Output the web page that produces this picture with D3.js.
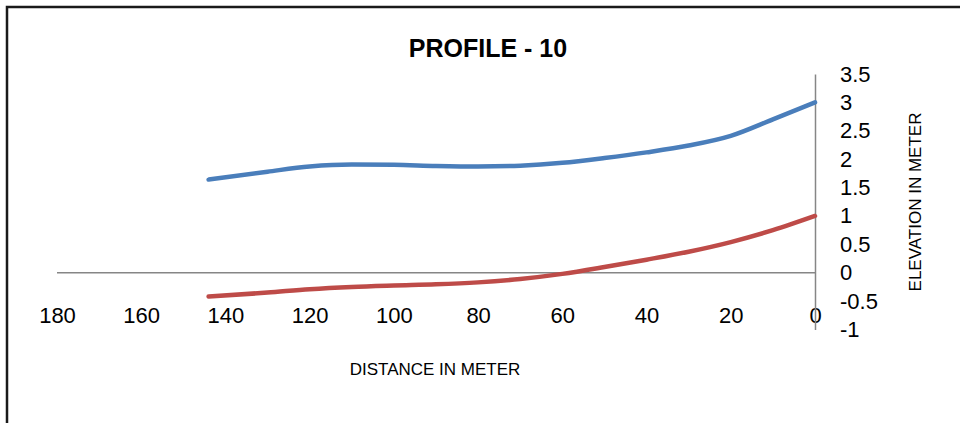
<!DOCTYPE html>
<html>
<head>
<meta charset="utf-8">
<script src="https://cdn.jsdelivr.net/npm/d3@7"></script>
<style>
  body { margin: 0; background: #fff; }
  text { font-family: "Liberation Sans", Arial, sans-serif; fill: #000; }
</style>
</head>
<body>
<div id="chart"></div>
<script>
// data
const distances = [144, 130, 120, 110, 100, 90, 80, 70, 60, 50, 40, 30, 20, 10, 0];
const upperProfile = [1.64, 1.78, 1.87, 1.905, 1.90, 1.88, 1.87, 1.885, 1.935, 2.02, 2.12, 2.24, 2.41, 2.70, 3.0];
const lowerProfile = [-0.42, -0.35, -0.29, -0.25, -0.225, -0.205, -0.17, -0.11, -0.02, 0.10, 0.23, 0.37, 0.54, 0.75, 1.0];
const xTicks = [180, 160, 140, 120, 100, 80, 60, 40, 20, 0];
const yTicks = [-1, -0.5, 0, 0.5, 1, 1.5, 2, 2.5, 3, 3.5];

const width = 960, height = 423;

const svg = d3.select("#chart")
  .append("svg")
    .attr("width", width)
    .attr("height", height);

// chart border (only top and left edge are in view)
svg.append("path")
  .attr("d", `M7,${height} L7,7 L${width},7`)
  .attr("fill", "none")
  .attr("stroke", "#1a1a1a")
  .attr("stroke-width", 2.5);

// scales
const x = d3.scaleLinear().domain([180, 0]).range([57, 815]);
const y = d3.scaleLinear().domain([-1, 3.5]).range([329.5, 74]);

// horizontal axis line at zero
svg.append("line")
  .attr("x1", x(180)).attr("x2", x(0))
  .attr("y1", y(0)).attr("y2", y(0))
  .attr("stroke", "#868686")
  .attr("stroke-width", 1.5);

// X tick labels
const xAxis = svg.append("g")
  .attr("transform", "translate(0,307)")
  .call(d3.axisBottom(x).tickValues(xTicks).tickSize(0).tickPadding(0).tickFormat(d => String(d)));
xAxis.select(".domain").remove();
xAxis.selectAll("text")
  .style("font-size", "22px")
  .style("font-family", "'Liberation Sans', Arial, sans-serif");

// right-hand Y axis
const yAxis = svg.append("g")
  .attr("transform", `translate(${x(0)},0)`)
  .call(d3.axisRight(y).tickValues(yTicks).tickSize(0).tickPadding(25).tickFormat(d => String(d)));
yAxis.select(".domain")
  .attr("stroke", "#868686")
  .attr("stroke-width", 1.5);
yAxis.selectAll("text")
  .attr("text-anchor", "start")
  .style("font-size", "22px")
  .style("font-family", "'Liberation Sans', Arial, sans-serif");

// lines
const line = d3.line()
  .x(d => x(d[0]))
  .y(d => y(d[1]))
  .curve(d3.curveMonotoneX);

svg.append("path")
  .datum(distances.map((d, i) => [d, upperProfile[i]]))
  .attr("d", line)
  .attr("fill", "none")
  .attr("stroke", "#4a7ebb")
  .attr("stroke-width", 4.5)
  .attr("stroke-linecap", "round");

svg.append("path")
  .datum(distances.map((d, i) => [d, lowerProfile[i]]))
  .attr("d", line)
  .attr("fill", "none")
  .attr("stroke", "#be4b48")
  .attr("stroke-width", 4.5)
  .attr("stroke-linecap", "round");

// titles
svg.append("text")
  .attr("x", 488).attr("y", 57)
  .attr("text-anchor", "middle")
  .style("font-size", "25px")
  .style("font-weight", "bold")
  .text("PROFILE - 10");

svg.append("text")
  .attr("x", 435).attr("y", 375)
  .attr("text-anchor", "middle")
  .style("font-size", "17px")
  .text("DISTANCE IN METER");

svg.append("text")
  .attr("transform", "translate(921,202) rotate(-90)")
  .attr("text-anchor", "middle")
  .style("font-size", "17px")
  .text("ELEVATION IN METER");
</script>
</body>
</html>
